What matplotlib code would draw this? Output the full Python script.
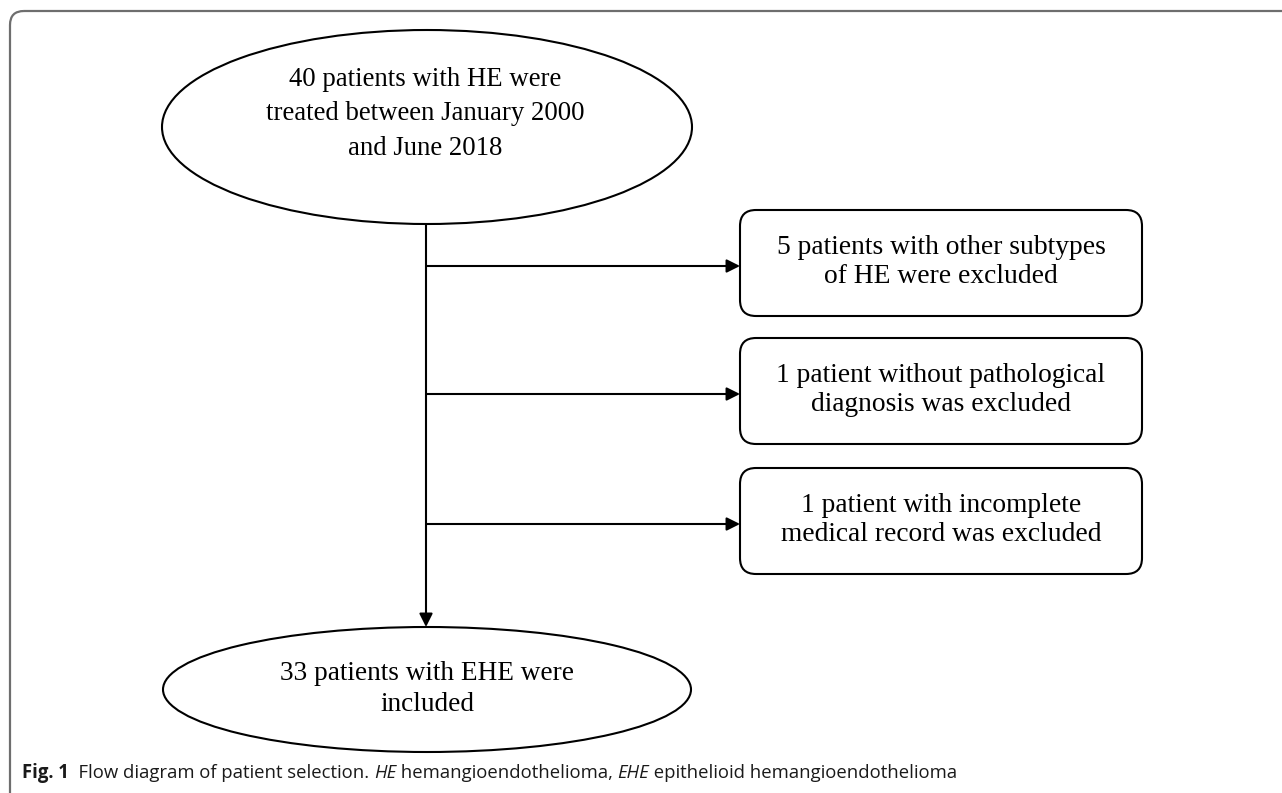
import matplotlib.pyplot as plt
from matplotlib.patches import Ellipse, FancyBboxPatch

plt.rcParams['font.family'] = ['Liberation Serif', 'DejaVu Serif']

top_text = '40 patients with HE were\ntreated between January 2000\nand June 2018'
bottom_text = '33 patients with EHE were\nincluded'
excluded = [
    '5 patients with other subtypes\nof HE were excluded',
    '1 patient without pathological\ndiagnosis was excluded',
    '1 patient with incomplete\nmedical record was excluded',
]
caption_parts = [
    ('Fig. 1', 'bold', 'normal'),
    ('  Flow diagram of patient selection. ', 'normal', 'normal'),
    ('HE', 'normal', 'italic'),
    (' hemangioendothelioma, ', 'normal', 'normal'),
    ('EHE', 'normal', 'italic'),
    (' epithelioid hemangioendothelioma', 'normal', 'normal'),
]

W, H = 1282, 793
fig = plt.figure(figsize=(W / 100, H / 100), dpi=100)
ax = fig.add_axes([0, 0, 1, 1])
ax.set_xlim(0, W)
ax.set_ylim(H, 0)
ax.axis('off')

# outer frame (rounded at the left corners)
frame = FancyBboxPatch((10, 11), 1400, 900, boxstyle='round,pad=0,rounding_size=14',
                       fc='none', ec='#6e6e6e', lw=1.6, clip_on=True)
ax.add_patch(frame)

lw = 1.5

# top ellipse
ax.add_patch(Ellipse((427, 127), 530, 194, fc='white', ec='black', lw=lw))
ax.text(425, 114, top_text, ha='center', va='center', fontsize=19.3, linespacing=1.5)

# bottom ellipse
ax.add_patch(Ellipse((427, 689.5), 528, 125, fc='white', ec='black', lw=lw))
ax.text(427, 689, bottom_text, ha='center', va='center', fontsize=19.6, linespacing=1.32)

# main vertical arrow
x0 = 426
ax.annotate('', xy=(x0, 627), xytext=(x0, 224),
            arrowprops=dict(arrowstyle='-|>', lw=lw, color='black', mutation_scale=20,
                            shrinkA=0, shrinkB=0))

# excluded boxes
box_left, box_right = 740, 1142
box_tops = [210, 338, 468]
box_h = 106
for top, txt in zip(box_tops, excluded):
    ax.add_patch(FancyBboxPatch((box_left, top), box_right - box_left, box_h,
                                boxstyle='round,pad=0,rounding_size=16',
                                fc='white', ec='black', lw=lw))
    yc = top + box_h / 2
    ax.text((box_left + box_right) / 2, yc - 1, txt, ha='center', va='center',
            fontsize=19.8, linespacing=1.2)
    ax.annotate('', xy=(box_left, yc + 3), xytext=(x0, yc + 3),
                arrowprops=dict(arrowstyle='-|>', lw=lw, color='black', mutation_scale=20,
                                shrinkA=0, shrinkB=0))

# caption, drawn piece by piece
fig.canvas.draw()
renderer = fig.canvas.get_renderer()
x = 22
for txt, weight, style in caption_parts:
    t = ax.text(x, 778, txt, ha='left', va='baseline', fontsize=13.35,
                family=['Open Sans', 'DejaVu Sans'], fontweight=weight, fontstyle=style,
                color='#1a1a1a')
    bb = t.get_window_extent(renderer=renderer)
    x += bb.width

fig.savefig('out.png', dpi=100)
